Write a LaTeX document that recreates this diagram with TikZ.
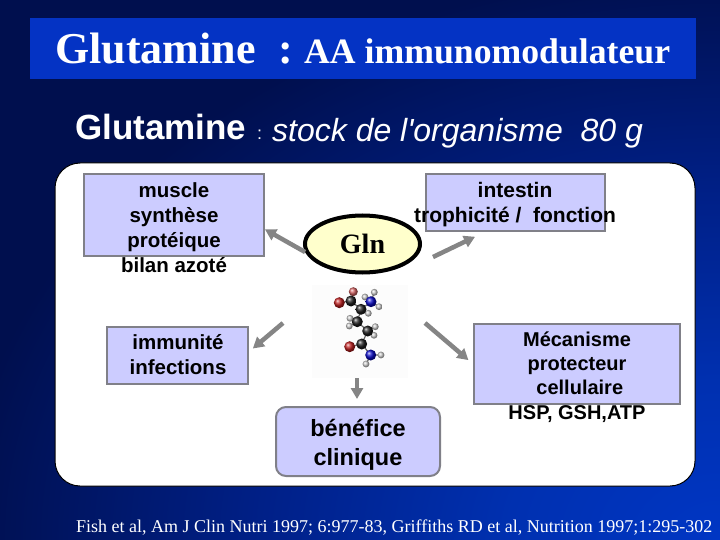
\documentclass[tikz,border=0pt]{standalone}
\usepackage{fontspec}
\setmainfont{Liberation Serif}
\setsansfont{Liberation Sans}
\usetikzlibrary{arrows.meta,shapes.geometric}
\definecolor{navydark}{HTML}{000F4E}
\definecolor{navymid}{HTML}{002088}
\definecolor{navylight}{HTML}{0030B0}
\definecolor{navybright}{HTML}{0036C4}
\definecolor{titleblue}{HTML}{0433C4}
\definecolor{boxfill}{HTML}{CCCCFF}
\definecolor{boxedge}{HTML}{808088}
\definecolor{glnfill}{HTML}{FFFFCC}
\definecolor{flowgray}{HTML}{858585}
\definecolor{oxy}{HTML}{C02020}
\definecolor{nitro}{HTML}{0A0AC8}
\definecolor{carbon}{HTML}{202020}
\definecolor{hydro}{HTML}{D0D0D0}
\pgfdeclareradialshading{cornerglow}{\pgfpoint{0bp}{0bp}}{color(0bp)=(navybright); color(7bp)=(navylight); color(15bp)=(navymid); color(25bp)=(navydark); color(50bp)=(navydark)}
\tikzset{
  boxnode/.style={draw=boxedge,line width=2pt,fill=boxfill,inner sep=0pt},
  boxtext/.style={font=\sffamily\bfseries\fontsize{20.5}{25}\selectfont,color=black,align=center,inner sep=0pt},
  flow/.style={draw=flowgray,line width=4.5pt,-{Triangle[length=11pt,width=12pt]}},
}
\begin{document}
\begin{tikzpicture}[x=1pt,y=-1pt]
  \useasboundingbox (0,0) rectangle (720,540);
  \fill[navydark] (0,0) rectangle (720,540);
  \begin{scope}
    \clip (0,0) rectangle (720,540);
    \shade[shading=cornerglow] (720,540) ellipse (760pt and 570pt);
  \end{scope}
  \fill[titleblue] (30,18) rectangle (696,79);
  \node[font=\bfseries\fontsize{44}{44}\selectfont,color=white,anchor=base west,inner sep=0pt] (titlemain) at (55,64) {Glutamine};
  \node[font=\bfseries\fontsize{44}{44}\selectfont,color=white,anchor=base west,inner sep=0pt] (titlecolon) at (278,64) {:};
  \node[font=\bfseries\fontsize{35.7}{36}\selectfont,color=white,anchor=base west,inner sep=0pt] (titlesub) at (304,64) {AA immunomodulateur};
  \node[font=\sffamily\bfseries\fontsize{35}{35}\selectfont,color=white,anchor=base west,inner sep=0pt] (stockmain) at (75,140) {Glutamine};
  \node[font=\sffamily\fontsize{18}{18}\selectfont,color=white,anchor=base west,inner sep=0pt] (stockcolon) at (257,140) {:};
  \node[font=\sffamily\itshape\fontsize{32}{32}\selectfont,color=white,anchor=base west,inner sep=0pt] (stocksub) at (272,141.5) {stock de l\textquotesingle organisme\ \ 80 g};
  \draw[black,line width=1pt,fill=white,rounded corners=25pt] (55,163) rectangle (695,486);

  % boxes, their texts run over the edges
  \node[boxnode,minimum width=180pt,minimum height=82pt] (muscle) at (174,215) {};
  \node[boxtext] (muscletext) at (174,228) {muscle\\synthèse\\protéique\\bilan azoté};
  \node[boxnode,minimum width=179pt,minimum height=57pt] (intestin) at (515.5,202.5) {};
  \node[boxtext,font=\sffamily\bfseries\fontsize{21}{25}\selectfont] (intestintext) at (515,205) {intestin\\trophicité /\ \ fonction};
  \node[boxnode,minimum width=141pt,minimum height=57pt] (immunite) at (177.5,355.5) {};
  \node[boxtext] (immunitetext) at (178,355) {immunité\\infections};
  \node[boxnode,minimum width=206pt,minimum height=80pt] (mecanisme) at (577,364) {};
  \node[boxtext,font=\sffamily\bfseries\fontsize{20}{24.4}\selectfont] (mecanismetext) at (577,377) {Mécanisme\\protecteur\\\ cellulaire\\HSP, GSH,ATP};
  \node[boxnode,rounded corners=10pt,minimum width=164pt,minimum height=69pt] (benefice) at (358,441.5) {};
  \node[boxtext,font=\sffamily\bfseries\fontsize{23.5}{29}\selectfont] (beneficetext) at (358,445) {bénéfice\\clinique};

  \node[draw=black,line width=4pt,fill=glnfill,ellipse,minimum width=115pt,minimum height=57pt,inner sep=0pt,font=\bfseries\fontsize{28}{28}\selectfont] (gln) at (362.5,244) {Gln};

  % molecule picture
  \fill[black!1] (312,285) rectangle (408,378);
  \draw[black!60,line width=1.2pt] (353.3,291.7) -- (351,301) -- (339.3,302.7) (351,301) -- (361,309.3) -- (371,301.7) -- (374.3,292.3) (371,301.7) -- (379,306.7) (371,301.7) -- (365,297) (361,309.3) -- (368.3,313.3) (361,309.3) -- (357.3,321.7) -- (350,318.3) (357.3,321.7) -- (349.3,326) (357.3,321.7) -- (367.7,331) -- (375.3,326.7) (367.7,331) -- (374,335.3) (367.7,331) -- (361.7,344) -- (349.7,346.7) (361.7,344) -- (370.7,355) -- (381,355) (370.7,355) -- (366,364);
  \foreach \atomx/\atomy in {374.3/292.3,379/306.7,365/297,368.3/313.3,350/318.3,349.3/326,375.3/326.7,374/335.3,381/355,366/364}
    \shade[ball color=hydro] (\atomx,\atomy) circle (3.4pt);
  \foreach \atomx/\atomy in {351/301,361/309.3,357.3/321.7,367.7/331,361.7/344}
    \shade[ball color=carbon] (\atomx,\atomy) circle (5.5pt);
  \shade[ball color=oxy!70!white] (353.3,291.7) circle (4.5pt);
  \foreach \atomx/\atomy in {339.3/302.7,349.7/346.7}
    \shade[ball color=oxy] (\atomx,\atomy) circle (5.5pt);
  \foreach \atomx/\atomy in {371/301.7,370.7/355}
    \shade[ball color=nitro] (\atomx,\atomy) circle (5.5pt);

  % arrows
  \coordinate (intestinfrom) at (433,257);
  \coordinate (immunitefrom) at (283,323);
  \coordinate (mecanismefrom) at (425,323);
  \coordinate (beneficefrom) at (357,378);
  \draw[flow] (gln.188) -- (muscle.-9);
  \draw[flow,shorten >=11pt] (intestinfrom) -- (intestin.224);
  \draw[flow,shorten >=5pt] (immunitefrom) -- (immunite.3);
  \draw[flow,shorten >=6pt] (mecanismefrom) -- (mecanisme.west);
  \draw[flow,line width=3.5pt,shorten >=7pt] (beneficefrom) -- (benefice.north -| beneficefrom);

  \node[font=\fontsize{18}{18}\selectfont,color=white,anchor=base west,inner sep=0pt] (source) at (76,532) {Fish et al, Am J Clin Nutri 1997; 6:977-83, Griffiths RD et al, Nutrition 1997;1:295-302};
\end{tikzpicture}
\end{document}
